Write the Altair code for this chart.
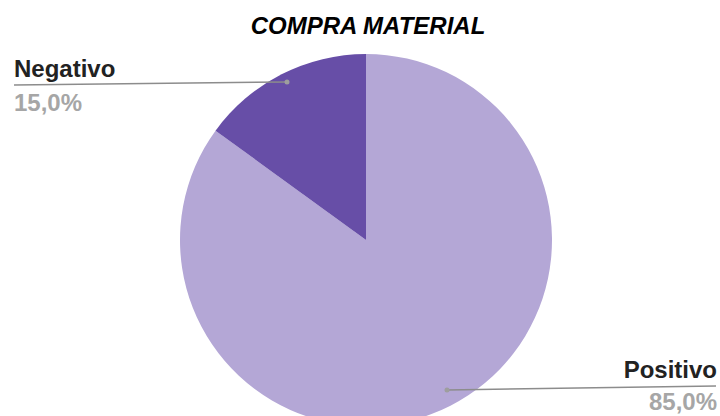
import altair as alt
import pandas as pd

categories = ["Positivo", "Negativo"]
values = [85.0, 15.0]
pct_labels = ["85,0%", "15,0%"]
colors = ["#b4a7d6", "#674ea7"]
title_text = "COMPRA MATERIAL"

df = pd.DataFrame({"cat": categories, "val": values, "pct": pct_labels,
                   "ord": list(range(len(categories)))})

CX, CY, R = 366, 240, 186
FONT = "Liberation Sans"
FS = 24

pie = alt.Chart(df).mark_arc(outerRadius=R).encode(
    theta=alt.Theta("val:Q", stack=True),
    order=alt.Order("ord:Q"),
    color=alt.Color("cat:N", scale=alt.Scale(domain=categories, range=colors), legend=None),
    x=alt.value(CX), y=alt.value(CY),
)

neg = df[df.cat == "Negativo"]
pos = df[df.cat == "Positivo"]

neg_line = alt.Chart(neg).mark_rule(color="#8c8c8c", strokeWidth=1.5).encode(
    x=alt.value(14), y=alt.value(85), x2=alt.value(287), y2=alt.value(82))
neg_dot = alt.Chart(neg).mark_circle(color="#9e9e9e", opacity=1, size=25).encode(
    x=alt.value(287), y=alt.value(82))
neg_name = alt.Chart(neg).mark_text(font=FONT, fontWeight="bold", fontSize=FS, align="left",
                                    baseline="alphabetic", color="#222222").encode(
    x=alt.value(14), y=alt.value(77), text="cat:N")
neg_pct = alt.Chart(neg).mark_text(font=FONT, fontWeight="bold", fontSize=FS, align="left",
                                   baseline="alphabetic", color="#a6a6a6").encode(
    x=alt.value(14), y=alt.value(111), text="pct:N")

pos_line = alt.Chart(pos).mark_rule(color="#8c8c8c", strokeWidth=1.5).encode(
    x=alt.value(447), y=alt.value(390), x2=alt.value(716), y2=alt.value(386))
pos_dot = alt.Chart(pos).mark_circle(color="#9e9e9e", opacity=1, size=25).encode(
    x=alt.value(447), y=alt.value(390))
pos_name = alt.Chart(pos).mark_text(font=FONT, fontWeight="bold", fontSize=FS, align="right",
                                    baseline="alphabetic", color="#222222").encode(
    x=alt.value(717), y=alt.value(378), text="cat:N")
pos_pct = alt.Chart(pos).mark_text(font=FONT, fontWeight="bold", fontSize=FS, align="right",
                                   baseline="alphabetic", color="#a6a6a6").encode(
    x=alt.value(717), y=alt.value(410), text="pct:N")

title = alt.Chart(pd.DataFrame({"t": [title_text]})).mark_text(
    font=FONT, fontWeight="bold", fontStyle="italic", fontSize=24, align="center",
    baseline="alphabetic", color="#000000").encode(
    x=alt.value(368), y=alt.value(34), text="t:N")

chart = alt.layer(pie, neg_line, neg_dot, neg_name, neg_pct,
                  pos_line, pos_dot, pos_name, pos_pct, title).properties(
    width=720, height=416, padding=0, autosize=alt.AutoSizeParams(type="none"),
    background="white"
).configure_view(stroke=None)

chart.save("out.html", embed_options={"renderer": "svg", "actions": False})
